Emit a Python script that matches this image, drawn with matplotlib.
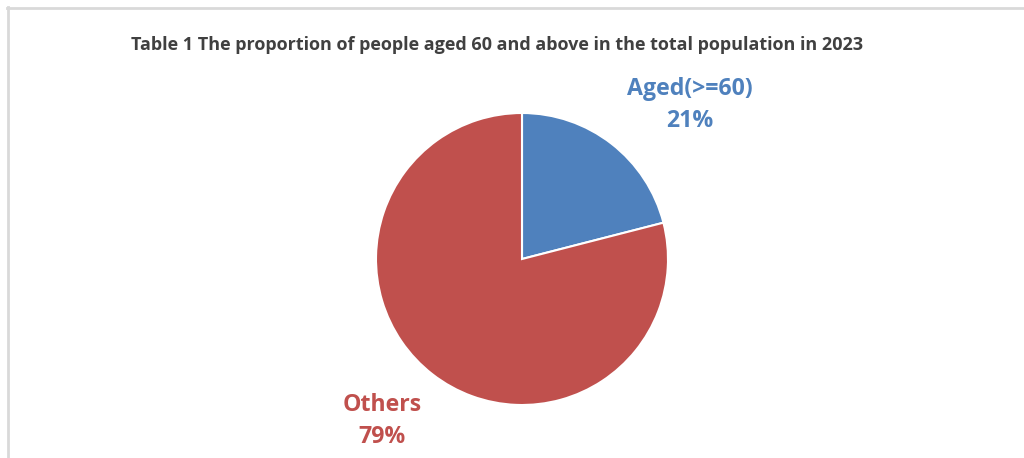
import matplotlib.pyplot as plt
from matplotlib.lines import Line2D

categories = ["Aged(>=60)", "Others"]
shares = [21, 79]
colors = ["#4F81BD", "#C0504D"]
title = "Table 1 The proportion of people aged 60 and above in the total population in 2023"

W, H = 1024, 458
fig = plt.figure(figsize=(W / 100, H / 100), dpi=100)
plt.rcParams['font.family'] = ['Open Sans', 'DejaVu Sans']

# border of the chart box (only top and left visible)
fig.add_artist(Line2D([7 / W, 1], [1 - 7.5 / H, 1 - 7.5 / H], color="#D9D9D9", lw=2))
fig.add_artist(Line2D([7.5 / W, 7.5 / W], [0, 1 - 7 / H], color="#D9D9D9", lw=2))

# pie centre (522, 259), radius 146 px
cx, cy, r = 522, 259, 146
ax = fig.add_axes([(cx - r) / W, (H - cy - r) / H, 2 * r / W, 2 * r / H])
ax.pie(shares, colors=colors, startangle=90, counterclock=False,
       wedgeprops=dict(edgecolor="white", linewidth=1.5))
ax.set_xlim(-1, 1)
ax.set_ylim(-1, 1)
ax.axis("off")

fig.text(497 / W, 1 - 45 / H, title, ha="center", va="center",
         fontsize=13, fontweight="bold", color="#404040")

label_pos = [(690, 105), (382, 421)]
for cat, val, col, (px, py) in zip(categories, shares, colors, label_pos):
    fig.text(px / W, 1 - py / H, f"{cat}\n{val}%", ha="center", va="center",
             fontsize=16.7, fontweight="bold", color=col, linespacing=1.45)

fig.savefig("out.png", dpi=100)
